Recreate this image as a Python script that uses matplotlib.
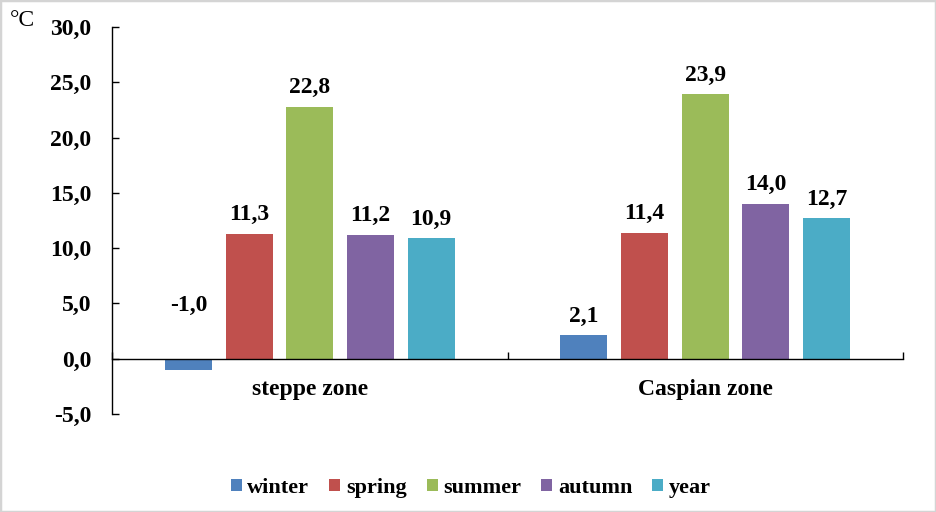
import matplotlib
matplotlib.use("Agg")
import matplotlib.pyplot as plt
from matplotlib.patches import Rectangle
import numpy as np

zones = ["steppe zone", "Caspian zone"]
seasons = ["winter", "spring", "summer", "autumn", "year"]
steppe = [-1.0, 11.3, 22.8, 11.2, 10.9]
caspian = [2.1, 11.4, 23.9, 14.0, 12.7]
colors = ["#4F81BD", "#C0504D", "#9BBB59", "#8064A2", "#4BACC6"]
yticks = [-5, 0, 5, 10, 15, 20, 25, 30]

plt.rcParams['font.family'] = ['Liberation Serif', 'DejaVu Serif']
plt.rcParams['font.weight'] = 'bold'
plt.rcParams['font.size'] = 17

fig = plt.figure(figsize=(9.36, 5.12), dpi=100)
ax = fig.add_axes([112/936, 1-414/512, (903-112)/936, (414-27)/512])

vals = np.array([steppe, caspian])
x = np.arange(len(zones))
step = 0.1534
width = 0.119
for i, s in enumerate(seasons):
    xs = x + (i - 2) * step
    ax.bar(xs, vals[:, i], width, color=colors[i], label=s, zorder=2)
    for xi, v in zip(xs, vals[:, i]):
        # the negative winter label sits above the zero line, as in the source
        off = 19 if v >= 0 else 53
        ax.annotate(f"{v:.1f}".replace(".", ","), xy=(xi, max(v, 0)),
                    xytext=(0, off * 0.72), textcoords="offset points",
                    ha="center", va="center", fontweight="bold")

ax.set_xlim(-0.5, 1.5)
ax.set_ylim(-5, 30)
ax.set_yticks(yticks)
ax.set_yticklabels([f"{t:.1f}".replace(".", ",") for t in yticks])
ax.spines['top'].set_visible(False)
ax.spines['right'].set_visible(False)
ax.spines['bottom'].set_position(('data', 0))
ax.set_xticks([-0.5, 0.5, 1.5])
ax.set_xticklabels([])
ax.set_xticks(x, minor=True)
ax.set_xticklabels(zones, minor=True)
ax.tick_params(axis='x', which='major', direction='in', length=5, width=1)
ax.tick_params(axis='x', which='minor', length=0, pad=14.5)
ax.tick_params(axis='y', direction='in', length=5, width=1, pad=15)
for sp in ['left', 'bottom']:
    ax.spines[sp].set_linewidth(1)

fig.text(10/936, 1-21/512, "°C", fontsize=17, fontweight='normal', va='center', ha='left')

fig.legend(loc='center', bbox_to_anchor=(0.503, 1-488/512), ncol=5, frameon=False,
           fontsize=16, handlelength=0.5, handleheight=0.5, handletextpad=0.25,
           columnspacing=0.9)

fig.patches.append(Rectangle((0, 0), 1, 1, transform=fig.transFigure, fill=False,
                             edgecolor='#d4d4d4', linewidth=2.5))

fig.savefig("out.png", dpi=100)
